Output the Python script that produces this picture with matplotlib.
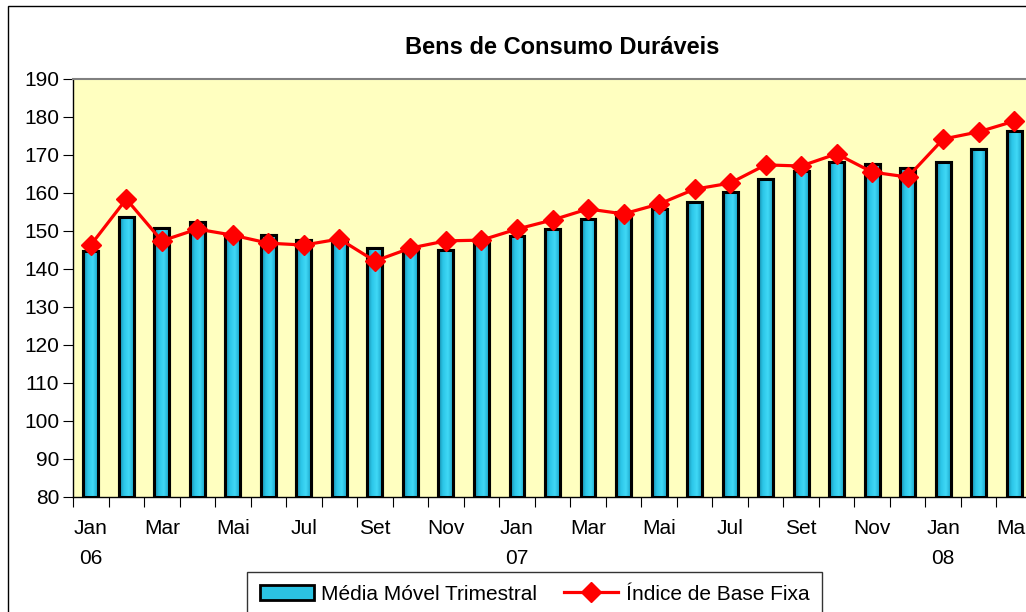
import matplotlib
matplotlib.use("Agg")
import matplotlib.pyplot as plt
import numpy as np
from matplotlib.patches import Rectangle
from matplotlib.lines import Line2D
from matplotlib.colors import LinearSegmentedColormap

plt.rcParams["font.family"] = ["Liberation Sans", "DejaVu Sans"]

# monthly data, Jan 06 .. Mar 08
months = ["Jan", "Fev", "Mar", "Abr", "Mai", "Jun", "Jul", "Ago", "Set", "Out", "Nov", "Dez",
          "Jan", "Fev", "Mar", "Abr", "Mai", "Jun", "Jul", "Ago", "Set", "Out", "Nov", "Dez",
          "Jan", "Fev", "Mar"]
years = {0: "06", 12: "07", 24: "08"}
media_movel = [144.8, 153.7, 150.9, 152.4, 149.2, 149.0, 147.6, 147.4, 145.5, 145.8,
               145.0, 147.0, 148.7, 150.5, 153.2, 155.0, 155.8, 157.6, 160.3, 163.7,
               165.8, 168.2, 167.6, 166.6, 168.2, 171.6, 176.3]
indice_base = [146.3, 158.4, 147.4, 150.5, 148.9, 146.8, 146.3, 147.9, 142.1, 145.5,
               147.4, 147.6, 150.5, 152.9, 155.8, 154.5, 157.1, 161.0, 162.6, 167.4,
               167.1, 170.3, 165.5, 164.2, 174.2, 176.1, 178.9]

FS = 15
bar_cmap = LinearSegmentedColormap.from_list("barfill", ["#1488A8", "#2CC6E8", "#40D8F6", "#1CA8CC"])

fig = plt.figure(figsize=(10.26, 6.12), dpi=100)
fig.patch.set_facecolor("white")
fig.patches.append(Rectangle((8 / 1026, -0.1), 1.2, 1.1 - 6 / 612,
                             transform=fig.transFigure, fill=False,
                             edgecolor="black", linewidth=1.0))

ax = fig.add_axes([73 / 1026, 115 / 612, 959 / 1026, 418 / 612])
ax.set_facecolor("#FFFFC0")

x = list(range(len(months)))
bars = ax.bar(x, [v - 80 for v in media_movel], bottom=80, width=0.42,
              color="#2BC3E3", edgecolor="black", linewidth=2.2, zorder=2)
# horizontal gradient inside each bar
grad = np.linspace(0, 1, 64).reshape(1, -1)
for b in bars:
    x0, y0, w, h = b.get_x(), b.get_y(), b.get_width(), b.get_height()
    im = ax.imshow(grad, cmap=bar_cmap, extent=[x0, x0 + w, y0, y0 + h],
                   aspect="auto", zorder=2.1, interpolation="bilinear")
    im.set_clip_path(b)
    ax.add_patch(Rectangle((x0, y0), w, h, fill=False, edgecolor="black",
                           linewidth=2.2, zorder=2.2))

ax.plot(x, indice_base, color="#FF0000", linewidth=2.3, marker="D",
        markersize=10.5, zorder=3)

ax.set_xlim(-0.5, len(months) - 0.5)
ax.set_ylim(80, 190)
ax.set_yticks(range(80, 191, 10))
ax.tick_params(axis="y", direction="out", length=7, labelsize=FS, pad=3)

# tick marks between categories, labels every other month
ax.set_xticks([i - 0.5 for i in range(len(months) + 1)])
ax.set_xticklabels([])
ax.tick_params(axis="x", direction="out", length=7)
for i in range(0, len(months), 2):
    lab = months[i] + ("\n" + years[i] if i in years else "")
    ax.text(i, 74.3, lab, ha="center", va="top", fontsize=FS,
            linespacing=1.75, clip_on=False)

ax.spines["right"].set_visible(False)
ax.spines["top"].set_color("#808080")
ax.spines["top"].set_linewidth(1.5)
ax.spines["left"].set_linewidth(1.0)
ax.spines["bottom"].set_linewidth(1.0)

fig.text(562 / 1026, 1 - 47 / 612, "Bens de Consumo Duráveis", ha="center",
         va="center", fontsize=17, fontweight="bold")

bar_handle = Rectangle((0, 0), 1, 1, facecolor="#2BC3E3", edgecolor="black", linewidth=2.0)
line_handle = Line2D([], [], color="#FF0000", linewidth=2.3, marker="D", markersize=10.5)
leg = fig.legend([bar_handle, line_handle], ["Média Móvel Trimestral", "Índice de Base Fixa"],
                 loc="upper left", bbox_to_anchor=(247 / 1026, 1 - 572 / 612),
                 ncol=2, fontsize=FS, frameon=True, fancybox=False,
                 edgecolor="black", borderpad=0.6, handlelength=2.6,
                 columnspacing=1.3, handletextpad=0.35, borderaxespad=0)
leg.get_frame().set_linewidth(1.0)

fig.savefig("out.png", dpi=100)
